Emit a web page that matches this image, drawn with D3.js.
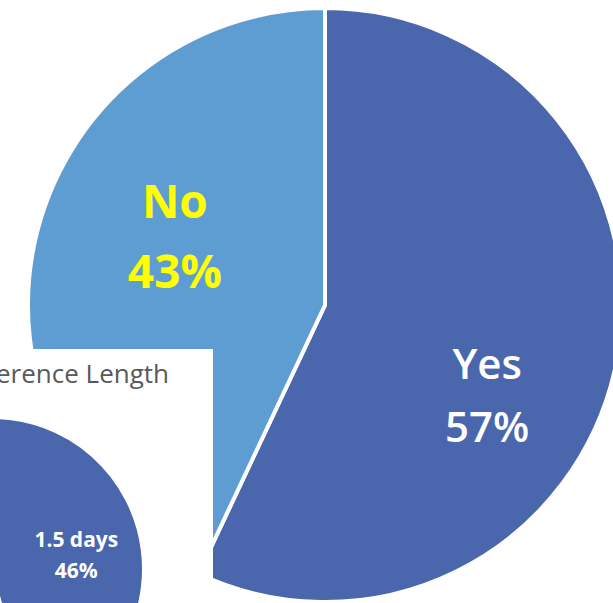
<!DOCTYPE html>
<meta charset="utf-8">
<style>
html, body { margin: 0; padding: 0; background: #fff; }
svg { display: block; font-family: 'Open Sans', sans-serif; }
</style>
<body>
<script src="https://cdn.jsdelivr.net/npm/d3@7"></script>
<script>
// main pie: "Yes" / "No"
var answers = ["Yes", "No"];
var answerShares = [57, 43];
var answerColors = ["#4A66AC", "#5E9DD2"];
var answerTextColors = ["#FFFFFF", "#FFFF00"];

// inset pie (Conference Length) - only the 1.5 days slice is in view
var lengthCats = ["1.5 days", "rest"];
var lengthShares = [46, 54];

var W = 613, H = 603;
var svg = d3.select("body").append("svg")
  .attr("width", W)
  .attr("height", H);

// ---- big pie
var cx = 325, cy = 305, R = 297;
var pie = d3.pie().sort(null).value(function(d) { return d.value; });
var arc = d3.arc().innerRadius(0).outerRadius(R);
var labelArc = d3.arc().innerRadius(160).outerRadius(160);

var mainData = answers.map(function(a, i) {
  return {name: a, value: answerShares[i], color: answerColors[i], text: answerTextColors[i]};
});

var g = svg.append("g").attr("transform", "translate(" + cx + "," + cy + ")");
var slices = g.selectAll("g.slice")
  .data(pie(mainData))
  .enter().append("g").attr("class", "slice");

slices.append("path")
  .attr("d", arc)
  .attr("fill", function(d) { return d.data.color; })
  .attr("stroke", "#fff")
  .attr("stroke-width", 4)
  .attr("stroke-linejoin", "miter");

// excel-style label nudges: dx, dy, font size, weight, line gap
var nudge = {Yes: [6, 55, 42, 600, 63], No: [6, -34, 46, 700, 70]};

slices.each(function(d) {
  var c = labelArc.centroid(d);
  var n = nudge[d.data.name];
  var t = d3.select(this).append("text")
    .attr("text-anchor", "middle")
    .attr("fill", d.data.text)
    .attr("font-size", n[2] + "px")
    .attr("font-weight", n[3]);
  var x = c[0] + n[0], y = c[1] + n[1];
  t.append("tspan").attr("x", x).attr("y", y - n[4] / 2 + n[2] * 0.36).text(d.data.name);
  t.append("tspan").attr("x", x).attr("y", y + n[4] / 2 + n[2] * 0.36).text(d.data.value + "%");
});

// ---- inset chart panel (pasted over the bottom-left corner)
var inset = svg.append("g");
inset.append("rect")
  .attr("x", 0).attr("y", 349)
  .attr("width", 213).attr("height", H - 349)
  .attr("fill", "#fff");

inset.append("text")
  .attr("x", 169).attr("y", 383)
  .attr("text-anchor", "end")
  .attr("fill", "#595959")
  .attr("font-size", "26px")
  .text("Conference Length");

svg.append("clipPath").attr("id", "insetClip")
  .append("rect").attr("x", 0).attr("y", 349).attr("width", 213).attr("height", H - 349);

var ir = 151;
var insetArc = d3.arc().innerRadius(0).outerRadius(ir);
var insetLabel = d3.arc().innerRadius(85).outerRadius(85);
var ig = inset.append("g").attr("clip-path", "url(#insetClip)")
  .append("g").attr("transform", "translate(-8,569)");

var lengthData = lengthCats.map(function(c, i) { return {name: c, value: lengthShares[i]}; });
var iArcs = pie(lengthData);

ig.selectAll("path")
  .data(iArcs)
  .enter().append("path")
  .attr("d", insetArc)
  .attr("fill", "#4A66AC")
  .attr("stroke", "#fff")
  .attr("stroke-width", 2);

var first = iArcs[0];
var lc = insetLabel.centroid(first);
var lt = ig.append("text")
  .attr("text-anchor", "middle")
  .attr("fill", "#fff")
  .attr("font-size", "21px")
  .attr("font-weight", 700);
lt.append("tspan").attr("x", lc[0]).attr("y", lc[1] - 11).text(first.data.name);
lt.append("tspan").attr("x", lc[0]).attr("y", lc[1] + 20).text(first.data.value + "%");
</script>
</body>
